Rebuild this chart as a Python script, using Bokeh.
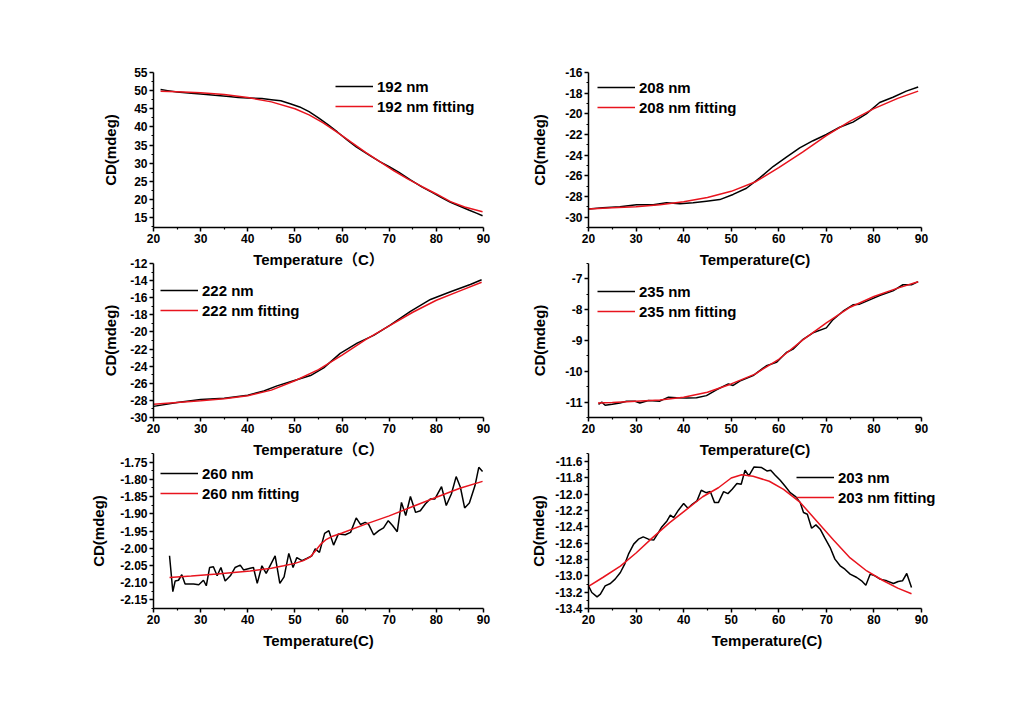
from bokeh.plotting import figure
from bokeh.layouts import column, row
from bokeh.models import Range1d, FixedTicker, PrintfTickFormatter, Legend, LegendItem
from bokeh.embed import file_html
from bokeh.resources import INLINE

# ---------------- data ----------------
T192 = [21.5, 23, 25, 28, 30, 33, 36, 38, 40, 43, 45, 47, 49, 51, 53, 55, 57, 59, 61, 63,
        66, 68, 70, 72, 74.5, 77, 79, 81, 83, 85, 87, 88.5, 89.8]
CD192 = [50.3, 50.0, 49.6, 49.3, 49.1, 48.7, 48.4, 48.1, 48.0, 47.8, 47.5, 47.2, 46.4, 45.5,
         44.2, 42.5, 40.6, 38.6, 36.5, 34.5, 32.0, 30.4, 29.0, 27.5, 25.4, 23.4, 22.0, 20.6,
         19.2, 18.1, 17.0, 16.2, 15.5]
T192F = [21.5, 25, 30, 35, 40, 45, 50, 53, 56, 59, 62, 65, 68, 71, 74, 77, 80, 83, 86, 89.8]
CD192F = [49.8, 49.7, 49.4, 48.9, 48.1, 46.9, 45.0, 43.3, 41.1, 38.5, 35.7, 33.0, 30.4, 27.9,
          25.6, 23.5, 21.5, 19.4, 17.9, 16.6]

T208 = [20, 23, 26.6, 30.1, 33.6, 36.4, 39.2, 42, 44.8, 47.6, 50.4, 53.2, 56, 58.8, 61.6, 64.4,
        67.2, 70, 72.8, 75.6, 78.4, 81.2, 84, 86.8, 89.3]
CD208 = [-29.2, -29.1, -29.0, -28.8, -28.8, -28.6, -28.7, -28.6, -28.45, -28.3, -27.8, -27.2,
         -26.2, -25.1, -24.2, -23.3, -22.6, -22.0, -21.3, -20.8, -20.0, -18.9, -18.4, -17.8, -17.4]
T208F = [20, 25, 30, 35, 40, 45, 50, 55, 60, 65, 70, 75, 80, 85, 89.3]
CD208F = [-29.2, -29.1, -29.0, -28.8, -28.5, -28.1, -27.5, -26.6, -25.2, -23.7, -22.1, -20.7,
          -19.5, -18.5, -17.8]

T222 = [20, 25, 30, 35, 40, 43.4, 46.2, 49.7, 53.3, 56.1, 59.6, 63.2, 66.7, 70.2, 74.5, 78.75,
        83, 87.2, 89.6]
CD222 = [-28.7, -28.25, -27.9, -27.75, -27.4, -26.9, -26.3, -25.7, -25.1, -24.2, -22.5, -21.3,
         -20.4, -19.2, -17.6, -16.2, -15.3, -14.45, -13.9]
T222F = [20, 25, 30, 35, 40, 45, 50, 55, 60, 65, 70, 75, 80, 85, 89.6]
CD222F = [-28.45, -28.25, -28.05, -27.8, -27.45, -26.8, -25.7, -24.4, -22.7, -20.9, -19.3,
          -17.7, -16.3, -15.2, -14.2]

T235 = [22.1, 22.8, 23.5, 25, 26.6, 28, 29.8, 30.8, 32.6, 35, 36.8, 38.5, 40.6, 42.7, 44.8,
        46.9, 49.4, 50.4, 51.8, 54.6, 57.4, 59.5, 61.6, 63, 65.1, 67.2, 70, 71.4, 73.5, 75.6,
        77, 79.1, 81.2, 84, 86.1, 87.9, 89.3]
CD235 = [-11.07, -11.0, -11.1, -11.07, -11.03, -10.97, -10.97, -11.03, -10.95, -10.97, -10.84,
         -10.86, -10.87, -10.86, -10.79, -10.6, -10.41, -10.46, -10.32, -10.14, -9.82, -9.71,
         -9.39, -9.28, -8.96, -8.75, -8.59, -8.32, -8.05, -7.84, -7.82, -7.68, -7.54, -7.39,
         -7.19, -7.19, -7.09]
T235F = [22, 25, 30, 35, 40, 45, 50, 55, 60, 65, 70, 75, 80, 85, 89.3]
CD235F = [-11.03, -11.01, -10.97, -10.93, -10.84, -10.68, -10.41, -10.09, -9.61, -8.99, -8.43,
          -7.92, -7.57, -7.30, -7.09]

T260 = [23.4, 23.7, 24.1, 24.6, 25.3, 26.0, 26.7, 28.5, 29.6, 30.6, 31.2, 31.9, 32.7, 33.5,
        34.3, 35.2, 36.3, 37.3, 38.4, 39.1, 40.5, 41.2, 42.0, 43.0, 43.9, 45.8, 46.8, 47.7,
        48.7, 49.6, 50.4, 51.5, 52.6, 53.6, 54.3, 55.2, 56.3, 57.2, 58.2, 59.2, 60.7, 61.8,
        63.0, 63.9, 64.9, 65.6, 66.7, 67.8, 68.8, 69.8, 70.7, 71.7, 72.6, 73.5, 74.5, 75.6,
        76.6, 77.7, 78.7, 79.7, 81.1, 82.1, 83.2, 84.2, 85.1, 86.0, 87.0, 88.2, 89.0, 89.8]
CD260 = [-2.022, -2.066, -2.126, -2.095, -2.093, -2.077, -2.104, -2.104, -2.106, -2.093,
         -2.109, -2.056, -2.054, -2.080, -2.056, -2.095, -2.080, -2.056, -2.049, -2.063,
         -2.058, -2.056, -2.102, -2.051, -2.073, -2.022, -2.102, -2.083, -2.015, -2.056,
         -2.027, -2.036, -2.029, -2.022, -2.002, -2.012, -1.957, -1.949, -1.991, -1.959,
         -1.961, -1.954, -1.912, -1.931, -1.925, -1.930, -1.961, -1.949, -1.941, -1.920,
         -1.934, -1.952, -1.867, -1.905, -1.850, -1.896, -1.891, -1.871, -1.857, -1.857,
         -1.821, -1.876, -1.842, -1.792, -1.823, -1.883, -1.869, -1.818, -1.765, -1.777]
T260F = [23.4, 28, 33.5, 40.5, 45, 47.6, 50, 51.8, 53.3, 54.5, 55.5, 56.5, 58, 60, 65, 70, 75,
         80, 85, 89.8]
CD260F = [-2.085, -2.081, -2.075, -2.066, -2.058, -2.051, -2.044, -2.036, -2.025, -2.005,
          -1.988, -1.976, -1.965, -1.956, -1.930, -1.906, -1.879, -1.852, -1.826, -1.806]

T203 = [20.0, 20.7, 21.8, 22.5, 23.5, 24.6, 25.6, 26.7, 27.6, 28.4, 29.5, 30.5, 31.5, 32.6,
        33.7, 34.7, 35.4, 36.5, 37.2, 37.9, 38.9, 40.0, 40.9, 41.8, 42.8, 43.7, 44.7, 45.6,
        46.5, 47.3, 48.4, 49.3, 50.2, 51.2, 52.1, 52.9, 53.7, 54.8, 56.4, 57.5, 58.3, 59.2,
        60.3, 61.3, 62.4, 63.6, 64.5, 65.2, 66.0, 66.9, 67.8, 68.7, 69.7, 70.8, 71.8, 72.9,
        73.9, 75.0, 76.4, 77.4, 78.3, 79.2, 80.2, 81.3, 82.7, 84.1, 85.1, 86.0, 86.9, 87.9]
CD203 = [-13.122, -13.204, -13.257, -13.224, -13.122, -13.094, -13.040, -12.959, -12.857,
         -12.734, -12.611, -12.550, -12.522, -12.550, -12.562, -12.469, -12.400, -12.326,
         -12.256, -12.286, -12.195, -12.114, -12.171, -12.122, -12.081, -11.950, -11.980,
         -11.967, -12.102, -12.102, -11.967, -11.992, -11.938, -11.869, -11.877, -11.705,
         -11.775, -11.665, -11.673, -11.714, -11.705, -11.763, -11.828, -11.898, -11.980,
         -12.032, -12.102, -12.224, -12.244, -12.416, -12.375, -12.428, -12.538, -12.653,
         -12.795, -12.877, -12.918, -12.979, -13.020, -13.061, -13.114, -12.979, -13.000,
         -13.040, -13.061, -13.094, -13.069, -13.061, -12.971, -13.143]
T203F = [20, 23, 26.7, 30, 33.3, 37, 40.3, 44, 47.3, 50, 52.2, 54.6, 58, 61, 64.5, 68, 71.5,
         75, 78.5, 82, 85, 87.9]
CD203F = [-13.13, -13.02, -12.88, -12.72, -12.54, -12.35, -12.20, -12.03, -11.92, -11.80,
          -11.76, -11.78, -11.84, -11.94, -12.10, -12.33, -12.56, -12.78, -12.94, -13.06,
          -13.15, -13.22]

XTICKS = [20, 30, 40, 50, 60, 70, 80, 90]
Y192 = [15, 20, 25, 30, 35, 40, 45, 50, 55]
Y208 = [-30, -28, -26, -24, -22, -20, -18, -16]
Y222 = [-30, -28, -26, -24, -22, -20, -18, -16, -14, -12]
Y235 = [-11, -10, -9, -8, -7]
Y260 = [-2.15, -2.10, -2.05, -2.00, -1.95, -1.90, -1.85, -1.80, -1.75]
Y203 = [-13.4, -13.2, -13.0, -12.8, -12.6, -12.4, -12.2, -12.0, -11.8, -11.6]

# ---------------- styling ----------------
FONT = "Liberation Sans, Arial, Noto Sans CJK SC, sans-serif"
RED = "#e8141e"


def minors(ticks, lo, hi):
    step = ticks[1] - ticks[0]
    out = []
    for t in ticks:
        for m in (t - step / 2, t + step / 2):
            if lo - 1e-9 <= m <= hi + 1e-9 and all(abs(m - o) > 1e-9 for o in out):
                out.append(round(m, 6))
    return out


def panel(xb, yb, xf, yf, name, yrange, yticks, fmt, xlabel, leg_xy, ylab_standoff,
          left_col, row_idx, extra_px=0):
    if left_col:
        fw, bl, br = 330, 153, 15
    else:
        fw, bl, br = 333, 90, 30
    fh = [155, 154, 155][row_idx]
    bt = [72, 20, 20][row_idx]
    # extra_px widens the frame to the right (room for a legend that overhangs the axis end);
    # the x axis line itself stays bounded to 20..90
    xmax = 90 + extra_px * 70.0 / fw
    p = figure(frame_width=fw + extra_px, frame_height=fh, min_border_left=bl,
               min_border_right=max(br - extra_px, 5),
               min_border_top=bt, min_border_bottom=50,
               x_range=Range1d(20, xmax), y_range=Range1d(*yrange),
               output_backend="svg", toolbar_location=None)
    p.background_fill_color = None
    p.border_fill_color = None
    p.outline_line_color = None
    p.grid.visible = False

    r1 = p.line(xb, yb, line_color="black", line_width=1.5)
    r2 = p.line(xf, yf, line_color=RED, line_width=1.5)

    p.xaxis.ticker = FixedTicker(ticks=XTICKS, minor_ticks=minors(XTICKS, 20, 90))
    p.yaxis.ticker = FixedTicker(ticks=yticks, minor_ticks=minors(yticks, *yrange))
    p.yaxis.formatter = PrintfTickFormatter(format=fmt)
    p.xaxis.formatter = PrintfTickFormatter(format="%d")
    p.xaxis.bounds = (20, 90)

    for ax in (p.xaxis[0], p.yaxis[0]):
        ax.axis_line_width = 1.5
        ax.major_tick_line_width = 1.5
        ax.minor_tick_line_width = 1.2
        ax.major_tick_out = 4
        ax.major_tick_in = 0
        ax.minor_tick_out = 2
        ax.minor_tick_in = 0
        ax.major_label_text_font = FONT
        ax.major_label_text_font_size = "12px"
        ax.major_label_text_font_style = "bold"
        ax.major_label_text_color = "black"
        ax.major_label_standoff = 2
        ax.axis_label_text_font = FONT
        ax.axis_label_text_font_size = "15px"
        ax.axis_label_text_font_style = "bold"
        ax.axis_label_text_color = "black"
    p.xaxis.axis_label = xlabel
    p.xaxis.axis_label_standoff = 5
    p.yaxis.axis_label = "CD(mdeg)"
    p.yaxis.axis_label_standoff = ylab_standoff

    leg = Legend(items=[LegendItem(label=f"{name} nm", renderers=[r1]),
                        LegendItem(label=f"{name} nm fitting", renderers=[r2])],
                 location=leg_xy)
    leg.border_line_color = None
    leg.background_fill_alpha = 0
    leg.padding = 0
    leg.margin = 0
    leg.spacing = 0
    leg.label_standoff = 4
    leg.glyph_width = 38
    leg.glyph_height = 20
    leg.label_height = 20
    leg.label_text_font = FONT
    leg.label_text_font_size = "15px"
    leg.label_text_font_style = "bold"
    leg.label_text_color = "black"
    p.add_layout(leg)
    return p


f1 = panel(T192, CD192, T192F, CD192F, "192", (12.25, 55), Y192, "%d",
           "Temperature（C）", (182, 111), 12, True, 0)
f2 = panel(T208, CD208, T208F, CD208F, "208", (-31.0, -16), Y208, "%d",
           "Temperature(C)", (9, 110), 14, False, 0)
f3 = panel(T222, CD222, T222F, CD222F, "222", (-30, -12), Y222, "%d",
           "Temperature（C）", (7, 97), 8, True, 1)
f4 = panel(T235, CD235, T235F, CD235F, "235", (-11.5, -6.5), Y235, "%d",
           "Temperature(C)", (9, 96), 14, False, 1)
f5 = panel(T260, CD260, T260F, CD260F, "260", (-2.175, -1.725), Y260, "%.2f",
           "Temperature(C)", (7, 105), 10, True, 2)
f6 = panel(T203, CD203, T203F, CD203F, "203", (-13.4, -11.5), Y203, "%.1f",
           "Temperature(C)", (208, 101), 5, False, 2, extra_px=24)

layout = column(row(f1, f2),
                row(f3, f4, margin=(-34, 0, 0, 0)),
                row(f5, f6, margin=(-34, 0, 0, 0)))

open("out.html", "w").write(file_html(layout, INLINE))
